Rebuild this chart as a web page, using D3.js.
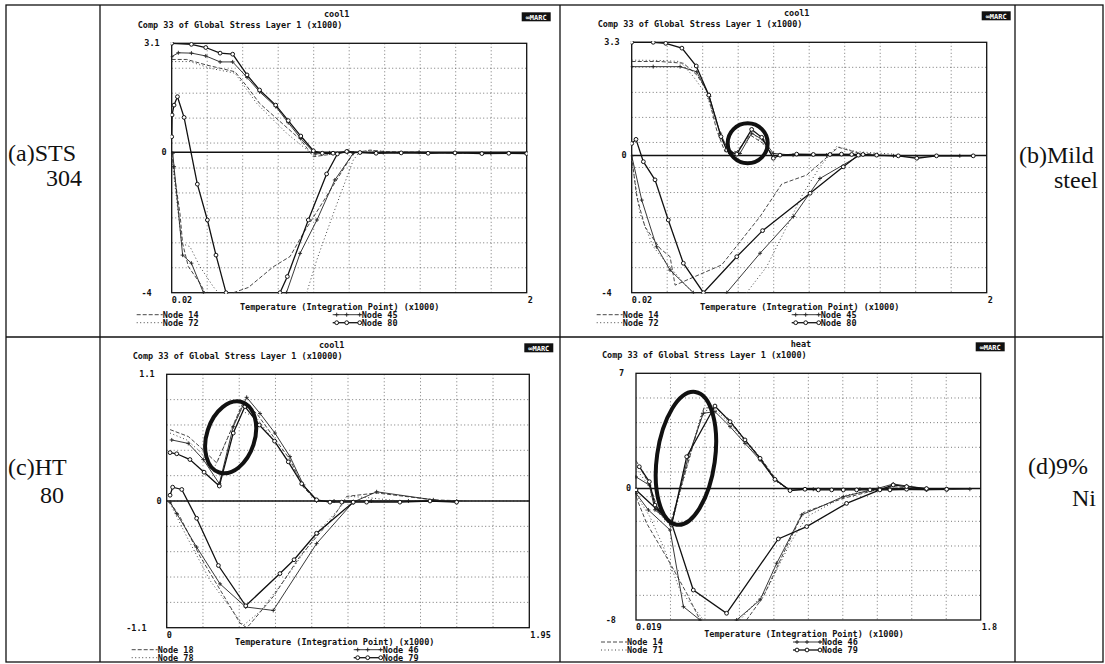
<!DOCTYPE html>
<html>
<head>
<meta charset="utf-8">
<script src="https://cdn.jsdelivr.net/npm/d3@7"></script>
<style>
  body { margin: 0; background: #fff; }
  .mono { font-family: "DejaVu Sans Mono", monospace; font-size: 8.5px; font-weight: bold; fill: #111; }
  .cap { font-family: "Liberation Serif", "DejaVu Serif", serif; font-size: 24px; fill: #111; }
</style>
</head>
<body>
<svg id="chart" width="1105" height="664"></svg>
<script>
// (a) STS 304 -- cool1
const a14 = [[0.02,2.64],[0.104,2.64],[0.215,2.48],[0.29,2.39],[0.373,2.29],[0.44,1.87],[0.51,1.39],[0.74,0.35],[0.81,-0.13],[0.92,-0.05], null,
  [0.02,-0.03],[0.039,-0.79],[0.066,-1.74],[0.081,-2.6],[0.113,-3.26],[0.178,-3.73],[0.206,-4.0], null,
  [0.364,-4.0],[0.448,-3.85],[0.587,-3.26],[0.68,-2.97],[0.754,-2.31],[0.847,-1.55],[0.94,-0.79],[1.033,-0.03],[1.126,0.06],[1.2,0.02],[1.66,-0.03]]
const a72 = [[0.02,2.58],[0.122,2.58],[0.234,2.39],[0.373,2.25],[0.494,1.39],[0.661,0.54],[0.81,-0.08], null,
  [0.02,-0.13],[0.048,-1.36],[0.076,-2.6],[0.122,-2.69],[0.178,-3.26],[0.252,-3.83],[0.28,-4.0], null,
  [0.773,-4.0],[0.829,-3.07],[0.922,-1.74],[1.033,-0.22],[1.07,0.02],[1.16,0.04],[1.29,-0.03]]
const a45 = [[0.02,2.72],[0.057,2.83],[0.13,2.82],[0.21,2.74],[0.29,2.57],[0.36,2.57],[0.44,2.13],[0.51,1.72],[0.6,1.3],[0.67,0.84],[0.74,0.39],[0.82,-0.05],[0.9,-0.02],[1.0,-0.01],[1.2,-0.01],[1.4,0.0],[1.6,-0.02],[1.8,-0.03],[2.0,-0.03], null,
  [0.026,-0.03],[0.033,-0.41],[0.081,-2.93],[0.13,-3.16],[0.197,-4.0], null,
  [0.66,-4.0],[0.736,-2.88],[0.83,-1.93],[0.93,-0.79],[1.033,-0.03]]
const a80 = [[0.02,3.1],[0.13,3.07],[0.21,2.98],[0.29,2.82],[0.36,2.79],[0.44,2.2],[0.51,1.77],[0.6,1.34],[0.67,0.9],[0.74,0.46],[0.81,0.04],[0.86,-0.03],[0.92,-0.03],[1.0,0.02],[1.07,-0.01],[1.16,-0.03],[1.3,-0.02],[1.45,-0.03],[1.6,-0.02],[1.75,-0.04],[1.9,-0.03],[2.0,-0.04], null,
  [0.02,0.44],[0.022,1.06],[0.033,1.34],[0.052,1.58],[0.089,0.99],[0.163,-0.91],[0.219,-1.93],[0.267,-2.93],[0.323,-4.0], null,
  [0.624,-4.0],[0.665,-3.54],[0.782,-1.93],[0.884,-0.62],[0.944,-0.05],[0.996,0.02]]

// (b) Mild steel -- cool1
const b14 = [[0.02,2.74],[0.178,2.74],[0.308,2.69],[0.383,2.35],[0.438,1.91],[0.494,0.74],[0.54,0.11],[0.606,0.11],[0.68,0.6],[0.754,0.35],[0.81,0.01], null,
  [0.02,-0.03],[0.048,-1.2],[0.094,-2.08],[0.178,-2.71],[0.234,-2.95],[0.262,-3.78],[0.522,-3.19],[0.736,-1.78],[0.857,-0.83],[0.996,-0.57],[1.172,0.24],[1.293,0.06],[1.386,0.04]]
const b72 = [[0.02,2.78],[0.178,2.77],[0.29,2.74],[0.364,2.3],[0.438,1.76],[0.513,0.65],[0.55,0.16],[0.606,0.11],[0.698,0.65],[0.764,0.26],[0.81,-0.03], null,
  [0.02,-0.13],[0.066,-1.69],[0.14,-2.66],[0.215,-3.14],[0.327,-3.82],[0.364,-4.0], null,
  [0.661,-4.0],[0.773,-3.24],[0.884,-2.08],[0.977,-1.1],[1.07,-0.33],[1.163,0.26],[1.275,0.11],[1.368,0.08],[1.48,0.04]]
const b45 = [[0.02,2.59],[0.14,2.59],[0.29,2.59],[0.383,2.44],[0.453,1.72],[0.513,0.65],[0.568,0.06],[0.624,0.06],[0.689,0.65],[0.754,0.45],[0.81,0.06],[0.92,0.01],[1.107,0.01],[1.48,-0.01],[1.85,-0.01], null,
  [0.02,-0.01],[0.076,-1.3],[0.159,-2.66],[0.234,-3.34],[0.364,-4.0], null,
  [0.55,-4.0],[0.736,-2.85],[0.922,-1.78],[1.07,-0.67],[1.293,0.01]]
const b80 = [[0.02,3.3],[0.14,3.3],[0.21,3.27],[0.3,3.13],[0.38,2.61],[0.45,1.76],[0.518,0.55],[0.55,0.16],[0.606,0.04],[0.689,0.76],[0.745,0.53],[0.81,-0.08],[0.847,0.01],[0.94,0.04],[1.033,0.03],[1.126,0.03],[1.19,0.04],[1.247,0.03],[1.31,0.03],[1.386,0.01],[1.507,-0.01],[1.61,-0.08],[1.72,-0.01],[1.925,-0.01], null,
  [0.02,0.35],[0.044,0.47],[0.085,-0.18],[0.15,-0.71],[0.224,-1.88],[0.308,-3.14],[0.42,-4.0],[0.606,-2.95],[0.75,-2.19],[1.015,-1.1],[1.2,-0.33],[1.284,0.01]]

// (c) HT 80 -- cool1
const c18 = [[0.018,0.62],[0.116,0.56],[0.179,0.47],[0.269,0.33],[0.412,0.86],[0.484,0.76],[0.573,0.56],[0.663,0.36],[0.735,0.12],[0.806,0.0],[0.9,0.0], null,
  [0.018,-0.01],[0.072,-0.14],[0.179,-0.48],[0.287,-0.77],[0.394,-1.06],[0.43,-1.1],[0.448,-1.07],[0.573,-0.83],[0.717,-0.48],[0.896,-0.14],[0.968,0.04],[1.129,0.07],[1.434,0.01],[1.613,0.0]]
const c78 = [[0.018,0.59],[0.108,0.53],[0.179,0.43],[0.251,0.27],[0.394,0.79],[0.484,0.72],[0.573,0.53],[0.663,0.33],[0.753,0.1],[0.824,-0.01], null,
  [0.018,-0.02],[0.108,-0.31],[0.233,-0.69],[0.376,-1.0],[0.412,-1.08],[0.502,-0.96],[0.645,-0.66],[0.824,-0.25],[0.986,0.04],[1.075,0.03],[1.254,0.0]]
const c46 = [[0.027,0.53],[0.116,0.5],[0.197,0.36],[0.283,0.15],[0.358,0.645],[0.43,0.9],[0.502,0.76],[0.582,0.59],[0.663,0.385],[0.735,0.14],[0.806,0.0],[0.9,0.0],[1.1,0.0],[1.3,0.0],[1.56,0.0], null,
  [0.018,-0.01],[0.054,-0.11],[0.161,-0.4],[0.287,-0.72],[0.425,-0.92],[0.573,-0.95],[0.806,-0.37],[1.003,-0.01],[1.129,0.08],[1.434,0.01],[1.559,-0.01]]
const c79 = [[0.018,0.42],[0.054,0.41],[0.125,0.36],[0.201,0.25],[0.283,0.13],[0.358,0.59],[0.421,0.82],[0.498,0.66],[0.58,0.52],[0.654,0.34],[0.726,0.15],[0.806,0.01],[0.878,-0.01],[0.941,-0.01],[1.003,-0.01],[1.075,-0.01],[1.254,-0.01],[1.416,0.0],[1.559,-0.01], null,
  [0.018,0.05],[0.032,0.12],[0.081,0.1],[0.161,-0.15],[0.278,-0.56],[0.425,-0.91],[0.609,-0.63],[0.685,-0.51],[0.806,-0.28],[1.003,-0.01]]

// (d) 9% Ni -- heat
const d14 = [[0.019,1.7],[0.09,0.2],[0.13,-1.2],[0.2,-2.0],[0.37,4.9],[0.43,4.9],[0.5,4.2],[0.58,3.0],[0.66,1.9],[0.74,0.6],[0.8,-0.05], null,
  [0.019,-0.5],[0.074,-2.12],[0.195,-4.55],[0.281,-6.38],[0.35,-8.0], null,
  [0.59,-8.0],[0.677,-6.58],[0.797,-3.54],[0.883,-1.47],[1.09,-0.6],[1.262,-0.09],[1.348,0.11],[1.52,-0.05]]
const d71 = [[0.019,1.2],[0.09,0.1],[0.12,-1.3],[0.2,-2.3],[0.36,4.7],[0.43,4.8],[0.5,4.0],[0.58,2.9],[0.66,1.8],[0.74,0.45],[0.81,-0.1], null,
  [0.019,-0.4],[0.091,-1.72],[0.16,-3.54],[0.246,-6.18],[0.315,-7.19],[0.367,-8.0], null,
  [0.556,-8.0],[0.694,-6.18],[0.815,-3.34],[0.901,-1.72],[1.107,-0.4],[1.279,-0.05],[1.348,0.15]]
const d46 = [[0.019,0.7],[0.088,0.2],[0.117,-1.3],[0.203,-2.12],[0.289,1.93],[0.367,4.57],[0.427,4.67],[0.505,3.76],[0.582,2.74],[0.66,1.73],[0.737,0.51],[0.815,-0.09],[0.935,-0.05],[1.176,-0.05],[1.52,-0.09],[1.744,-0.05], null,
  [0.019,-0.3],[0.083,-1.31],[0.195,-2.53],[0.264,-7.19],[0.35,-8.0], null,
  [0.539,-8.0],[0.66,-6.78],[0.746,-4.55],[0.875,-1.61],[1.09,-0.5],[1.271,0.01],[1.348,0.27],[1.417,0.15],[1.52,-0.01]]
const d79 = [[0.036,1.32],[0.088,0.41],[0.117,-1.01],[0.203,-2.22],[0.281,1.93],[0.427,5.01],[0.505,4.06],[0.582,2.95],[0.66,1.83],[0.737,0.55],[0.815,-0.13],[0.892,-0.05],[0.961,-0.09],[1.03,-0.09],[1.09,-0.09],[1.159,-0.09],[1.228,-0.09],[1.331,-0.09],[1.417,-0.05],[1.52,-0.05],[1.624,-0.05], null,
  [0.019,-0.09],[0.203,-2.12],[0.315,-6.18],[0.487,-7.59],[0.754,-3.07],[0.901,-2.32],[1.107,-0.91],[1.279,-0.09],[1.348,0.21],[1.417,0.11],[1.52,-0.01],[1.624,-0.05]]

const aNodes = ['Node 14', 'Node 72', 'Node 45', 'Node 80']
const bNodes = ['Node 14', 'Node 72', 'Node 45', 'Node 80']
const cNodes = ['Node 18', 'Node 78', 'Node 46', 'Node 79']
const dNodes = ['Node 14', 'Node 71', 'Node 46', 'Node 79']

const materials = [['(a)STS', '304'], ['(b)Mild', 'steel'], ['(c)HT', '80'], ['(d)9%', 'Ni']]

const svg = d3.select('#chart')

// table grid
const tbl = svg.append('g').attr('stroke', '#111').attr('stroke-width', 1.3)
tbl.append('rect').attr('x', 6).attr('y', 5).attr('width', 1097).attr('height', 657).attr('fill', 'none')
;[[100, 5, 100, 662], [1015, 5, 1015, 662], [560, 5, 560, 662], [6, 337, 1103, 337]].forEach(l =>
  tbl.append('line').attr('x1', l[0]).attr('y1', l[1]).attr('x2', l[2]).attr('y2', l[3]))

// material captions
const capPos = [[8, 161, 82, 186], [1019, 163, 1098, 188], [8, 475, 64, 503], [1028, 474, 1096, 506]]
materials.forEach((m, i) => {
  const p = capPos[i]
  svg.append('text').attr('class', 'cap').attr('x', p[0]).attr('y', p[1]).text(m[0])
  svg.append('text').attr('class', 'cap').attr('x', p[2]).attr('y', p[3]).attr('text-anchor', 'end').text(m[1])
})

const styles = [
  { dash: '4,2', width: 0.9, color: '#333', marker: null },
  { dash: '1,2.5', width: 1, color: '#444', marker: null },
  { dash: null, width: 0.9, color: '#222', marker: 'tick' },
  { dash: null, width: 1.3, color: '#111', marker: 'circle' }
]

const panels = [
  { id: 'a', box: [171.7, 43.3, 526.7, 292.7], xDom: [0.02, 2], yDom: [-4, 3.1], xLab: ['0.02', '2'], yLab: ['3.1', '0', '-4'],
    run: 'cool1', unit: '(x1000)', names: aNodes, series: [a14, a72, a45, a80], legR: 190, ring: null },
  { id: 'b', box: [631.7, 42.3, 986.7, 292.7], xDom: [0.02, 2], yDom: [-4, 3.3], xLab: ['0.02', '2'], yLab: ['3.3', '0', '-4'],
    run: 'cool1', unit: '(x1000)', names: bNodes, series: [b14, b72, b45, b80], legR: 189, ring: { c: [0.667, 0.355], rx: 20, ry: 20, rot: 0 } },
  { id: 'c', box: [166.7, 374.3, 529.3, 627.7], xDom: [0, 1.95], yDom: [-1.1, 1.1], xLab: ['0', '1.95'], yLab: ['1.1', '0', '-1.1'],
    run: 'cool1', unit: '(x10000)', names: cNodes, series: [c18, c78, c46, c79], legR: 216, ring: { c: [0.344, 0.553], rx: 24, ry: 37, rot: 18 } },
  { id: 'd', box: [636, 373.3, 980.7, 620], xDom: [0.019, 1.8], yDom: [-8, 7], xLab: ['0.019', '1.8'], yLab: ['7', '0', '-8'],
    run: 'heat', unit: '(x1000)', names: dNodes, series: [d14, d71, d46, d79], legR: 186, ring: { c: [0.277, 1.83], rx: 29, ry: 67, rot: 8 } }
]

const drawMarker = (g, st, x, y) => {
  if (st.marker === 'circle')
    g.append('circle').attr('cx', x).attr('cy', y).attr('r', 1.9).attr('fill', '#fff').attr('stroke', st.color).attr('stroke-width', 1)
  else if (st.marker === 'tick')
    g.append('path').attr('d', `M${x - 2},${y}h4M${x},${y - 2}v4`).attr('stroke', st.color).attr('stroke-width', 0.9)
}

const drawPanel = p => {
  const [x0, y0, x1, y1] = p.box
  const x = d3.scaleLinear().domain(p.xDom).range([x0, x1])
  const y = d3.scaleLinear().domain(p.yDom).range([y1, y0])
  const g = svg.append('g')

  // header texts
  g.append('text').attr('class', 'mono').attr('x', x0 + 165).attr('y', y0 - 26).attr('text-anchor', 'middle').text(p.run)
  g.append('text').attr('class', 'mono').attr('x', x0 - 34).attr('y', y0 - 15).text('Comp 33 of Global Stress Layer 1 ' + p.unit)
  const logo = g.append('g').attr('transform', `translate(${x1 - 5},${y0 - 31})`)
  logo.append('rect').attr('width', 29).attr('height', 9).attr('fill', '#111')
  logo.append('text').attr('x', 14.5).attr('y', 7.3).attr('text-anchor', 'middle')
    .attr('font-family', 'DejaVu Sans Mono').attr('font-size', 7).attr('font-weight', 'bold').attr('fill', '#fff').text('\u221eMARC')

  // grid: ten divisions each way
  const gx = d3.range(11).map(i => p.xDom[0] + i * (p.xDom[1] - p.xDom[0]) / 10)
  const gy = d3.range(11).map(i => p.yDom[0] + i * (p.yDom[1] - p.yDom[0]) / 10)
  const grid = g.append('g').attr('stroke', '#555').attr('stroke-width', 0.8).attr('stroke-dasharray', '1,2.5')
  gx.slice(1, 10).forEach(v => grid.append('line').attr('x1', x(v)).attr('x2', x(v)).attr('y1', y0).attr('y2', y1))
  gy.slice(1, 10).forEach(v => grid.append('line').attr('y1', y(v)).attr('y2', y(v)).attr('x1', x0).attr('x2', x1))

  // frame and zero line
  g.append('rect').attr('x', x0).attr('y', y0).attr('width', x1 - x0).attr('height', y1 - y0)
    .attr('fill', 'none').attr('stroke', '#111').attr('stroke-width', 1.3)
  g.append('line').attr('x1', x0).attr('x2', x1).attr('y1', y(0)).attr('y2', y(0)).attr('stroke', '#111').attr('stroke-width', 1.4)

  // axis labels
  g.append('text').attr('class', 'mono').attr('x', x0 - 12).attr('y', y0 + 3).attr('text-anchor', 'end').text(p.yLab[0])
  g.append('text').attr('class', 'mono').attr('x', x0 - 5).attr('y', y(0) + 3).attr('text-anchor', 'end').text(p.yLab[1])
  g.append('text').attr('class', 'mono').attr('x', x0 - 20).attr('y', y1 + 3).attr('text-anchor', 'end').text(p.yLab[2])
  g.append('text').attr('class', 'mono').attr('x', x0).attr('y', y1 + 10).text(p.xLab[0])
  g.append('text').attr('class', 'mono').attr('x', x1 + 1).attr('y', y1 + 10).text(p.xLab[1])
  g.append('text').attr('class', 'mono').attr('x', x0 + 168).attr('y', y1 + 17).attr('text-anchor', 'middle')
    .text('Temperature (Integration Point) (x1000)')

  // series, clipped to the plot box
  const clipId = 'clip-' + p.id
  g.append('clipPath').attr('id', clipId).append('rect')
    .attr('x', x0 - 1).attr('y', y0 - 1).attr('width', x1 - x0 + 2).attr('height', y1 - y0 + 2)
  const plot = g.append('g').attr('clip-path', `url(#${clipId})`)
  const line = d3.line().defined(d => d !== null).x(d => x(d[0])).y(d => y(d[1]))
  p.series.forEach((s, i) => {
    const st = styles[i]
    plot.append('path').attr('d', line(s)).attr('fill', 'none').attr('stroke', st.color)
      .attr('stroke-width', st.width).attr('stroke-dasharray', st.dash)
    if (st.marker) s.filter(d => d !== null).forEach(d => drawMarker(plot, st, x(d[0]), y(d[1])))
  })

  // hand-drawn ring
  if (p.ring)
    g.append('ellipse').attr('cx', 0).attr('cy', 0).attr('rx', p.ring.rx).attr('ry', p.ring.ry)
      .attr('transform', `translate(${x(p.ring.c[0])},${y(p.ring.c[1])}) rotate(${p.ring.rot})`)
      .attr('fill', 'none').attr('stroke', '#111').attr('stroke-width', 4)

  // legend
  p.names.forEach((name, i) => {
    const st = styles[i]
    const left = i < 2
    const ly = y1 + 25 + (i % 2) * 8
    const tx = left ? x0 - 9 : x0 + p.legR
    const sx = tx - (left ? 26 : 29)
    g.append('line').attr('x1', sx).attr('x2', tx).attr('y1', ly - 3).attr('y2', ly - 3)
      .attr('stroke', st.color).attr('stroke-width', st.width).attr('stroke-dasharray', st.dash)
    if (st.marker) [sx + 4, sx + 14, tx - 2].forEach(mx => drawMarker(g, st, mx, ly - 3))
    g.append('text').attr('class', 'mono').attr('x', tx).attr('y', ly).text(name)
  })
}

panels.forEach(drawPanel)
</script>
</body>
</html>
